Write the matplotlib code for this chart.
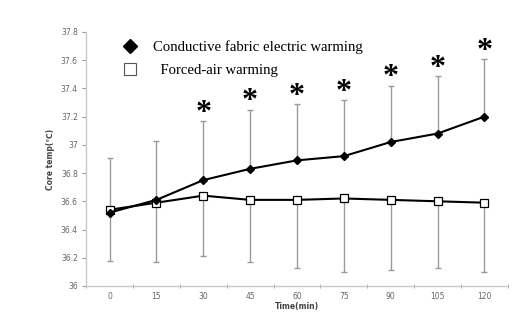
"""
Core temperature over time: conductive fabric vs forced-air warming.
"""

import matplotlib
matplotlib.use("Agg")
import matplotlib.pyplot as plt
from matplotlib.lines import Line2D

# data
times = ["0", "15", "30", "45", "60", "75", "90", "105", "120"]
conductive = [36.52, 36.61, 36.75, 36.83, 36.89, 36.92, 37.02, 37.08, 37.20]
conductive_sd = [0.39, 0.42, 0.42, 0.42, 0.40, 0.40, 0.40, 0.41, 0.41]
forced_air = [36.54, 36.59, 36.64, 36.61, 36.61, 36.62, 36.61, 36.60, 36.59]
forced_air_sd = [0.36, 0.42, 0.43, 0.44, 0.48, 0.52, 0.50, 0.47, 0.49]
significant = [False, False, True, True, True, True, True, True, True]

GRAY = "#9a9a9a"
TICK = "#666666"

fig = plt.figure(figsize=(5.22, 3.23), dpi=100)
ax = fig.add_axes([0.165, 0.1146, 0.808, 0.7866])

x = list(range(len(times)))

# error bars: upward for conductive, downward for forced-air
ax.errorbar(x, conductive, yerr=[[0] * len(x), conductive_sd], fmt="none",
            ecolor=GRAY, elinewidth=1.0, capsize=2, capthick=1.0, zorder=1)
ax.errorbar(x, forced_air, yerr=[forced_air_sd, [0] * len(x)], fmt="none",
            ecolor=GRAY, elinewidth=1.0, capsize=2, capthick=1.0, zorder=1)

ax.plot(x, forced_air, color="black", lw=1.5, marker="s", markersize=6,
        markerfacecolor="white", markeredgecolor="black", markeredgewidth=0.9, zorder=3)
ax.plot(x, conductive, color="black", lw=1.5, marker="D", markersize=4,
        markerfacecolor="black", markeredgecolor="black", zorder=4)

for xi, v, sd, sig in zip(x, conductive, conductive_sd, significant):
    if sig:
        ax.annotate("*", (xi, v + sd), xytext=(0, -5), textcoords="offset points",
                    ha="center", va="bottom", fontsize=23, fontweight="bold",
                    family="Liberation Serif")

ax.set_xlim(-0.5, len(times) - 0.5)
ax.set_ylim(36, 37.8)
ax.set_yticks([36, 36.2, 36.4, 36.6, 36.8, 37, 37.2, 37.4, 37.6, 37.8])
ax.set_yticklabels(["36", "36.2", "36.4", "36.6", "36.8", "37", "37.2", "37.4", "37.6", "37.8"])
ax.set_xticks(x)
ax.set_xticklabels(times)
ax.set_xticks([i + 0.5 for i in range(-1, len(times))], minor=True)

ax.tick_params(axis="x", which="major", length=0, pad=4, labelsize=5.5, labelcolor=TICK)
ax.tick_params(axis="x", which="minor", length=3, color=GRAY, direction="inout")
ax.tick_params(axis="y", length=3, color=GRAY, labelsize=5.5, labelcolor=TICK, pad=3)

for side in ["top", "right"]:
    ax.spines[side].set_visible(False)
for side in ["left", "bottom"]:
    ax.spines[side].set_color("#c8c8c8")
    ax.spines[side].set_linewidth(1.0)

ax.set_xlabel("Time(min)", fontsize=5.5, fontweight="bold", color="#444444", labelpad=1)
ax.set_ylabel("Core temp(\u2103)", fontsize=5.5, fontweight="bold", color="#444444", labelpad=4)

handles = [
    Line2D([], [], ls="none", marker="D", markersize=7, color="black"),
    Line2D([], [], ls="none", marker="s", markersize=9, markerfacecolor="white",
           markeredgecolor="#555555", markeredgewidth=0.8),
]
ax.legend(handles, ["Conductive fabric electric warming", "  Forced-air warming"],
          loc="upper left", bbox_to_anchor=(0.055, 1.02), frameon=False,
          prop={"family": "Liberation Serif", "size": 10.6}, handletextpad=1.1,
          labelspacing=0.7, handlelength=1.0)

fig.savefig("out.png", dpi=100)
